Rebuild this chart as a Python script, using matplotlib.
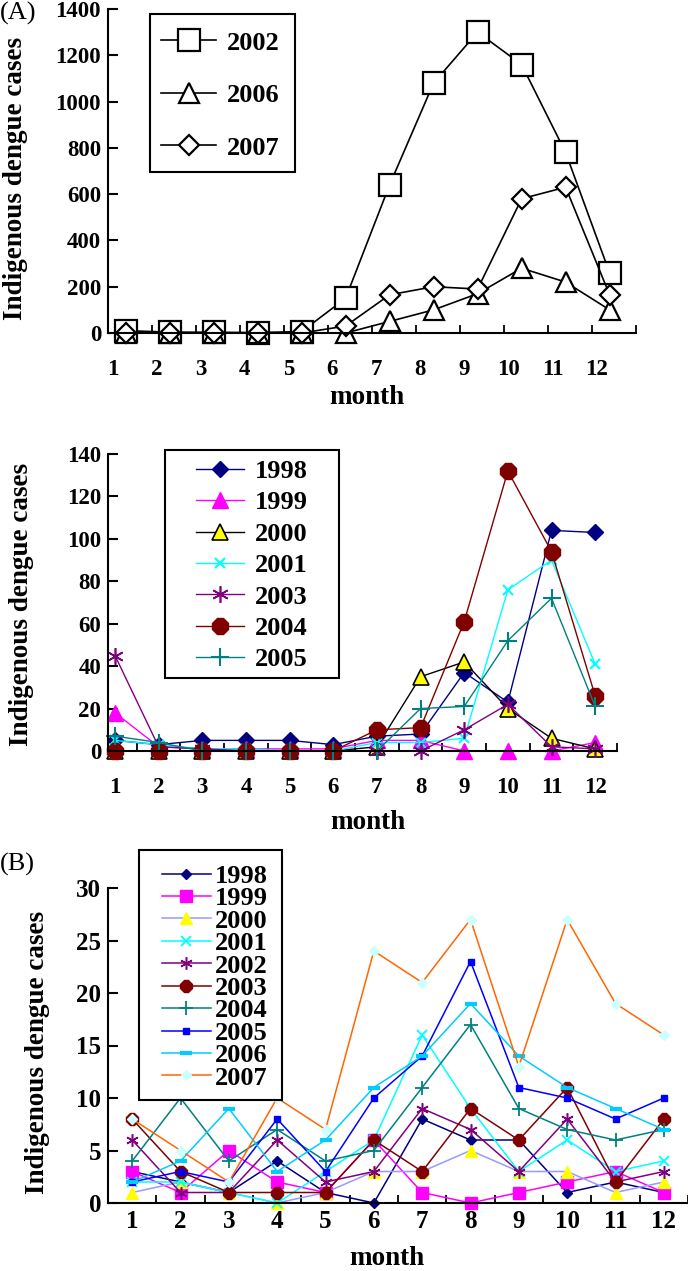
import numpy as np
import matplotlib
matplotlib.use("Agg")
from matplotlib import pyplot as plt
from matplotlib.patches import Rectangle

plt.rcParams["font.family"] = ["Liberation Serif", "DejaVu Serif"]
plt.rcParams["font.weight"] = "bold"
plt.rcParams["axes.labelweight"] = "bold"

# ----------------------------------------------------
# monthly indigenous dengue cases
# ----------------------------------------------------
months = np.arange(1, 13)
month_labels = [str(m) for m in months]

# (A) top: outbreak years
a_years = ["2002", "2006", "2007"]
a_2002 = [10, 4, 3, 2, 6, 150, 640, 1080, 1300, 1160, 780, 260]
a_2006 = [0, 0, 0, 0, 0, 0, 50, 100, 170, 280, 220, 100]
a_2007 = [0, 0, 0, 0, 0, 30, 165, 200, 190, 580, 630, 165]

# (A) bottom: medium years
m_years = ["1998", "1999", "2000", "2001", "2003", "2004", "2005"]
m_1998 = [5, 3, 5, 5, 5, 3, 7, 8, 37, 23, 104, 103]
m_1999 = [18, 2, 1, 1, 1, 1, 5, 5, 0, 0, 0, 4]
m_2000 = [0, 0, 0, 0, 0, 0, 2, 35, 42, 20, 6, 1]
m_2001 = [5, 3, 1, 1, 0, 0, 4, 4, 6, 76, 90, 41]
m_2003 = [45, 2, 1, 0, 0, 0, 0, 0, 10, 22, 2, 1]
m_2004 = [0, 0, 0, 0, 0, 0, 10, 11, 61, 132, 94, 26]
m_2005 = [7, 4, 0, 0, 0, 0, 0, 20, 21, 52, 72, 21]

# (B)
b_years = ["1998", "1999", "2000", "2001", "2002",
           "2003", "2004", "2005", "2006", "2007"]
b_1998 = [3, 2, 1, 4, 1, 0, 8, 6, 6, 1, 2, 1]
b_1999 = [3, 1, 5, 2, 1, 6, 1, 0, 1, 2, 3, 1]
b_2000 = [1, 2, 1, 0, 1, 3, 3, 5, 3, 3, 1, 2]
b_2001 = [2, 2, 1, 0, 3, 6, 16, 9, 3, 6, 3, 4]
b_2002 = [6, 1, 1, 6, 2, 3, 9, 7, 3, 8, 2, 3]
b_2003 = [8, 3, 1, 1, 1, 6, 3, 9, 6, 11, 2, 8]
b_2004 = [4, 10, 4, 7, 4, 5, 11, 17, 9, 7, 6, 7]
b_2005 = [2, 3, 2, 8, 3, 10, 14, 23, 11, 10, 8, 10]
b_2006 = [2, 4, 9, 3, 6, 11, 14, 19, 14, 11, 9, 7]
b_2007 = [8, 5, 2, 10, 7, 24, 21, 27, 13, 27, 19, 16]

W, H = 688, 1271


def px_box(left, top, right, bottom):
    return [left / W, 1 - bottom / H, (right - left) / W, (bottom - top) / H]


def style_axes(ax, ymax, ystep, xlim, label_shift, tick_shift, xpad, fs):
    for side in ("top", "right"):
        ax.spines[side].set_visible(False)
    for side in ("left", "bottom"):
        ax.spines[side].set_linewidth(1.5)
    ax.set_xlim(*xlim)
    ax.set_ylim(0, ymax)
    ax.set_yticks(np.arange(0, ymax + 1, ystep))
    ax.set_xticks(months + label_shift, month_labels)
    ax.set_xticks(months + tick_shift, minor=True)
    ax.tick_params(axis="x", which="major", length=0, pad=xpad, labelsize=fs)
    ax.tick_params(axis="x", which="minor", direction="in", length=6, width=1.3)
    ax.tick_params(axis="y", direction="in", length=7, width=1.5, pad=5,
                   labelsize=fs)


def set_labels(ax, ylab_xy, xlab_xy, fs=19.5):
    ax.set_ylabel("Indigenous dengue cases", fontsize=fs, fontweight="bold")
    ax.yaxis.label.set_va("center")
    ax.yaxis.set_label_coords(*ylab_xy)
    ax.set_xlabel("month", fontsize=fs, fontweight="bold")
    ax.xaxis.label.set_va("center")
    ax.xaxis.set_label_coords(*xlab_xy)


def boxed_legend(ax, box, anchor, fs, spacing, hlen, hpad):
    l, t, r, b = box
    fig.add_artist(Rectangle((l / W, 1 - b / H), (r - l) / W, (b - t) / H,
                             transform=fig.transFigure, fc="white",
                             ec="black", lw=1.5, zorder=4))
    handles, labels = ax.get_legend_handles_labels()
    fig.legend(handles, labels, loc="center left",
               bbox_to_anchor=(anchor[0] / W, 1 - anchor[1] / H),
               bbox_transform=fig.transFigure, frameon=False, fontsize=fs,
               borderpad=0, borderaxespad=0, labelspacing=spacing,
               handlelength=hlen, handletextpad=hpad, numpoints=1)


fig = plt.figure(figsize=(W / 100, H / 100), dpi=100)
ax_a = fig.add_axes(px_box(108, 9, 636, 333))
ax_m = fig.add_axes(px_box(108, 454, 617, 751))
ax_b = fig.add_axes(px_box(108, 888, 688, 1203))

# ---------------- (A) top ----------------
a_marks = [("s", 16), ("^", 15), ("D", 10.5)]
for year, vals, (mk, ms) in zip(a_years, [a_2002, a_2006, a_2007], a_marks):
    ax_a.plot(months, vals, color="black", lw=1.2, marker=mk, ms=ms,
              mfc="white", mec="black", mew=1.6, clip_on=False, label=year)
style_axes(ax_a, 1400, 200, (0.6, 12.6), -0.3, 0.6, 19, 16.5)
set_labels(ax_a, (-0.176, 0.478), (0.49, -0.198))
boxed_legend(ax_a, (150, 14, 295, 172), (161, 95.5), 19, 1.1, 2.1, 0.4)

# ---------------- (A) bottom ----------------
m_style = [
    dict(color="#000080", marker="D", ms=8),
    dict(color="#FF00FF", marker="^", ms=11),
    dict(color="black", marker="^", ms=11, mfc="#FFFF00", mec="black", mew=1.2),
    dict(color="#00FFFF", marker="x", ms=7, mew=1.5),
    dict(color="#800080", marker=(6, 2, 0), ms=12, mew=1.2),
    dict(color="#800000", marker="8", ms=12),
    dict(color="#008080", marker="+", ms=13, mew=1.5),
]
m_vals = [m_1998, m_1999, m_2000, m_2001, m_2003, m_2004, m_2005]
for year, vals, st in zip(m_years, m_vals, m_style):
    ax_m.plot(months, vals, lw=1.0, clip_on=False, label=year, **st)
style_axes(ax_m, 140, 20, (0.84, 12.5), 0.0, 0.5, 19, 16.5)
set_labels(ax_m, (-0.169, 0.495), (0.51, -0.242))
boxed_legend(ax_m, (165, 450, 339, 678), (196, 565.5), 19, 0.3, 1.8, 0.42)

# ---------------- (B) ----------------
b_style = [
    dict(color="#000080", marker="D", ms=5),
    dict(color="#FF00FF", marker="s", ms=8),
    dict(color="#9999FF", marker="^", ms=9, mfc="#FFFF00", mec="#FFFF00"),
    dict(color="#00FFFF", marker="x", ms=7, mew=1.3),
    dict(color="#800080", marker=(6, 2, 0), ms=9, mew=1.1),
    dict(color="#800000", marker="8", ms=9),
    dict(color="#008080", marker="+", ms=10, mew=1.3),
    dict(color="#0000FF", marker="s", ms=4),
    dict(color="#00CCFF", marker="_", ms=8, mew=3),
    dict(color="#FF6600", marker="D", ms=5.5, mfc="#CCFFFF", mec="#CCFFFF"),
]
b_vals = [b_1998, b_1999, b_2000, b_2001, b_2002,
          b_2003, b_2004, b_2005, b_2006, b_2007]
for year, vals, st in zip(b_years, b_vals, b_style):
    ax_b.plot(months, vals, lw=1.1, clip_on=False, label=year, **st)
style_axes(ax_b, 30, 5, (0.5, 12.5), 0.0, 0.5, 5, 18)
set_labels(ax_b, (-0.122, 0.479), (0.48, -0.176))
boxed_legend(ax_b, (139, 850, 282, 1100), (162, 977), 19, -0.04, 1.85, 0.15)

fig.text(0.0, 1 - 2 / H, "(A)", ha="left", va="top", fontsize=19,
         fontweight="normal")
fig.text(0.0, 1 - 853 / H, "(B)", ha="left", va="top", fontsize=19,
         fontweight="normal")

fig.savefig("out.png", dpi=100)
